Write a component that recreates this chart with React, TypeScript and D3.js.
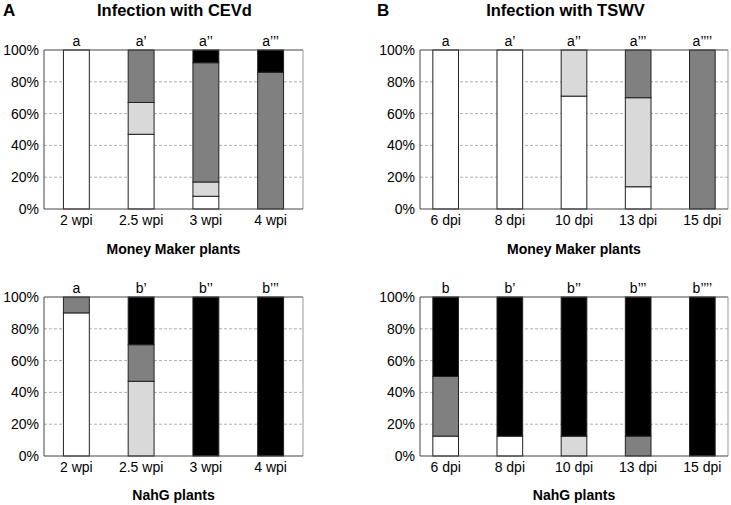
import React from "react";
import * as d3 from "d3";

// severity classes, stacked bottom to top
const classes = ["none", "mild", "moderate", "severe"];
const classColors = ["#ffffff", "#d9d9d9", "#808080", "#000000"];

const cevdTimes = ["2 wpi", "2.5 wpi", "3 wpi", "4 wpi"];
const tswvTimes = ["6 dpi", "8 dpi", "10 dpi", "13 dpi", "15 dpi"];

// CEVd, Money Maker
const mmCevdNone = [100, 47, 8, 0];
const mmCevdMild = [0, 20, 9, 0];
const mmCevdModerate = [0, 33, 75, 86];
const mmCevdSevere = [0, 0, 8, 14];
const mmCevdLetters = ["a", "a’", "a’’", "a’’’"];

// CEVd, NahG
const nahgCevdNone = [90, 0, 0, 0];
const nahgCevdMild = [0, 47, 0, 0];
const nahgCevdModerate = [10, 23, 0, 0];
const nahgCevdSevere = [0, 30, 100, 100];
const nahgCevdLetters = ["a", "b’", "b’’", "b’’’"];

// TSWV, Money Maker
const mmTswvNone = [100, 100, 71, 14, 0];
const mmTswvMild = [0, 0, 29, 56, 0];
const mmTswvModerate = [0, 0, 0, 30, 100];
const mmTswvSevere = [0, 0, 0, 0, 0];
const mmTswvLetters = ["a", "a’", "a’’", "a’’’", "a’’’’"];

// TSWV, NahG
const nahgTswvNone = [12.5, 12.5, 0, 0, 0];
const nahgTswvMild = [0, 0, 12.5, 0, 0];
const nahgTswvModerate = [37.5, 0, 0, 12.5, 0];
const nahgTswvSevere = [50, 87.5, 87.5, 87.5, 100];
const nahgTswvLetters = ["b", "b’", "b’’", "b’’’", "b’’’’"];

const yTicks = [0, 20, 40, 60, 80, 100];
const font = "'Liberation Sans', Arial, sans-serif";

type PanelProps = {
  times: string[];
  series: number[][];
  letters: string[];
  left: number;
  right: number;
  top: number;
  bottom: number;
  outer: number;
  caption: string;
  captionY: number;
};

const Panel = ({ times, series, letters, left, right, top, bottom, outer, caption, captionY }: PanelProps) => {
  const x = d3.scaleBand<string>().domain(times).range([left, right]).paddingInner(0.6).paddingOuter(outer);
  const y = d3.scaleLinear().domain([0, 100]).range([bottom, top]);

  const rows = times.map((t, i) => {
    const r: any = { time: t };
    classes.forEach((c, k) => (r[c] = series[k][i]));
    return r;
  });
  const stacked = d3.stack<any>().keys(classes)(rows);

  return (
    <g fontFamily={font}>
      {yTicks.slice(1, -1).map((t) => (
        <line key={t} x1={left} x2={right} y1={y(t)} y2={y(t)} stroke="#b0b0b0" strokeDasharray="3,2" />
      ))}
      {stacked.map((layer, k) => (
        <g key={classes[k]} fill={classColors[k]}>
          {layer.map((d, i) =>
            d[1] - d[0] > 0 ? (
              <rect
                key={i}
                x={x(times[i])}
                width={x.bandwidth()}
                y={y(d[1])}
                height={y(d[0]) - y(d[1])}
                stroke="#222"
                strokeWidth={1}
              />
            ) : null
          )}
        </g>
      ))}
      <line x1={left} x2={right} y1={top} y2={top} stroke="#444" />
      <line x1={right} x2={right} y1={top} y2={bottom} stroke="#999" />
      <line x1={left} x2={left} y1={top} y2={bottom} stroke="#444" />
      <line x1={left} x2={right} y1={bottom} y2={bottom} stroke="#444" />
      {yTicks.map((t) => (
        <text key={t} x={left - 5} y={y(t)} dy="0.35em" textAnchor="end" fontSize={14}>
          {t}%
        </text>
      ))}
      {times.map((t) => (
        <text key={t} x={x(t)! + x.bandwidth() / 2} y={bottom + 15.5} textAnchor="middle" fontSize={14}>
          {t}
        </text>
      ))}
      {letters.map((l, i) => (
        <text key={i} x={x(times[i])! + x.bandwidth() / 2} y={top - 4} textAnchor="middle" fontSize={14}>
          {l}
        </text>
      ))}
      <text x={(left + right) / 2} y={captionY} textAnchor="middle" fontSize={14} fontWeight="bold">
        {caption}
      </text>
    </g>
  );
};

export default function App() {
  return (
    <svg width={731} height={505} style={{ position: "absolute", left: 0, top: 0, background: "#fff" }}>
      <text x={3} y={16} fontFamily={font} fontWeight="bold" fontSize={17}>A</text>
      <text x={174.5} y={16} fontFamily={font} fontWeight="bold" fontSize={16.5} textAnchor="middle">
        Infection with CEVd
      </text>
      <text x={377} y={16} fontFamily={font} fontWeight="bold" fontSize={17}>B</text>
      <text x={565.5} y={16} fontFamily={font} fontWeight="bold" fontSize={16.5} textAnchor="middle">
        Infection with TSWV
      </text>
      <Panel
        times={cevdTimes}
        series={[mmCevdNone, mmCevdMild, mmCevdModerate, mmCevdSevere]}
        letters={mmCevdLetters}
        left={44}
        right={303}
        top={50}
        bottom={209}
        outer={0.3}
        caption="Money Maker plants"
        captionY={254}
      />
      <Panel
        times={tswvTimes}
        series={[mmTswvNone, mmTswvMild, mmTswvModerate, mmTswvSevere]}
        letters={mmTswvLetters}
        left={420}
        right={728}
        top={50}
        bottom={209}
        outer={0.2}
        caption="Money Maker plants"
        captionY={254}
      />
      <Panel
        times={cevdTimes}
        series={[nahgCevdNone, nahgCevdMild, nahgCevdModerate, nahgCevdSevere]}
        letters={nahgCevdLetters}
        left={44}
        right={303}
        top={297}
        bottom={456}
        outer={0.3}
        caption="NahG plants"
        captionY={500}
      />
      <Panel
        times={tswvTimes}
        series={[nahgTswvNone, nahgTswvMild, nahgTswvModerate, nahgTswvSevere]}
        letters={nahgTswvLetters}
        left={420}
        right={728}
        top={297}
        bottom={456}
        outer={0.2}
        caption="NahG plants"
        captionY={500}
      />
    </svg>
  );
}
